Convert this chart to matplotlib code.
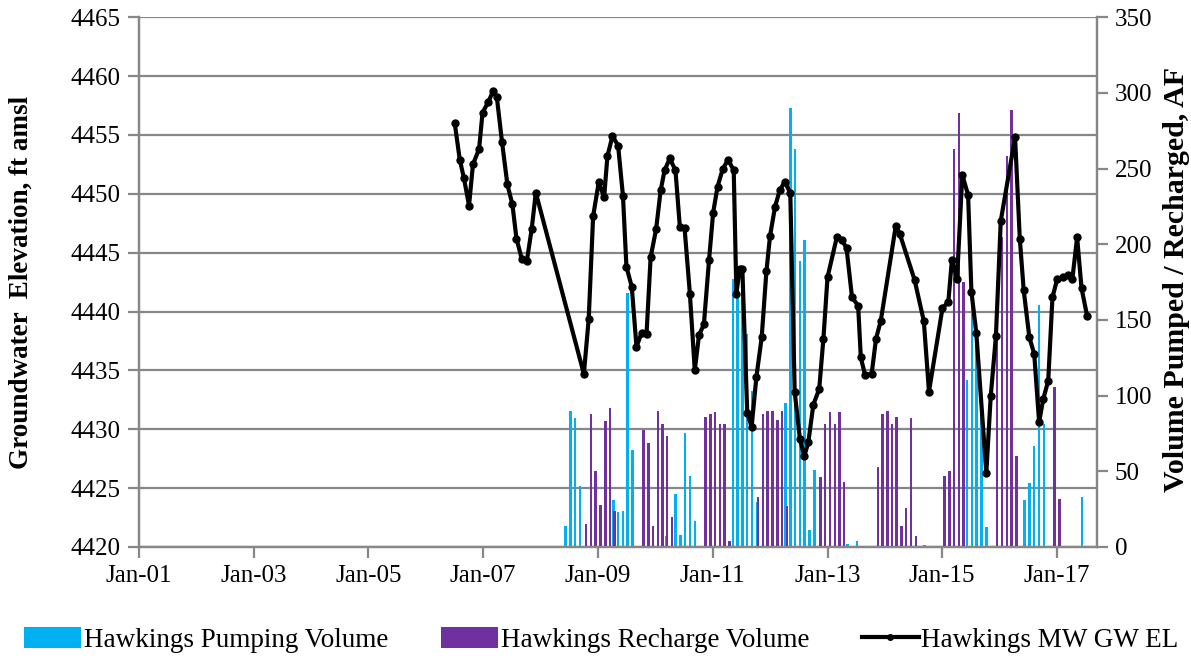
import pandas as pd
import matplotlib
matplotlib.use("Agg")
import matplotlib.pyplot as plt
import matplotlib.dates as mdates
from matplotlib.lines import Line2D
from matplotlib.patches import Patch

plt.rcParams["font.family"] = ["Liberation Serif", "DejaVu Serif"]

# ── Colours ──────────────────────────────────────────────────────────
_PUMP = "#00b0f0"
_RECH = "#7030a0"
_GRID = "#878787"

# ── Monitoring well groundwater elevation (ft amsl) ──────────────────
gw_dates = [
    "2006-07-04", "2006-08-05", "2006-09-01", "2006-10-03", "2006-10-28",
    "2006-12-06", "2006-12-28", "2007-02-03", "2007-03-04", "2007-03-29",
    "2007-05-01", "2007-06-04", "2007-07-06", "2007-08-01", "2007-09-03",
    "2007-10-06", "2007-11-06", "2007-12-02", "2008-10-03", "2008-11-03",
    "2008-12-01", "2009-01-06", "2009-02-09", "2009-03-02", "2009-04-03",
    "2009-05-09", "2009-06-09", "2009-07-01", "2009-08-04", "2009-09-03",
    "2009-10-06", "2009-11-06", "2009-12-02", "2010-01-06", "2010-02-04",
    "2010-03-01", "2010-04-03", "2010-05-09", "2010-06-06", "2010-07-06",
    "2010-08-09", "2010-09-09", "2010-10-06", "2010-11-06", "2010-12-09",
    "2011-01-04", "2011-02-01", "2011-03-06", "2011-04-09", "2011-05-15",
    "2011-06-01", "2011-06-21", "2011-07-09", "2011-08-09", "2011-09-06",
    "2011-10-06", "2011-11-09", "2011-12-09", "2012-01-01", "2012-02-02",
    "2012-03-03", "2012-04-03", "2012-05-09", "2012-06-06", "2012-07-09",
    "2012-08-06", "2012-09-01", "2012-10-03", "2012-11-09", "2012-12-06",
    "2013-01-01", "2013-03-01", "2013-04-01", "2013-05-02", "2013-06-06",
    "2013-07-15", "2013-08-01", "2013-08-28", "2013-10-09", "2013-11-06",
    "2013-12-06", "2014-03-12", "2014-04-06", "2014-07-09", "2014-09-06",
    "2014-10-09", "2015-01-03", "2015-02-09", "2015-03-04", "2015-04-06",
    "2015-05-09", "2015-06-15", "2015-07-06", "2015-08-06", "2015-10-09",
    "2015-11-06", "2015-12-09", "2016-01-09", "2016-04-09", "2016-05-09",
    "2016-06-03", "2016-07-09", "2016-08-09", "2016-09-09", "2016-10-06",
    "2016-11-06", "2016-12-03", "2017-01-03", "2017-02-06", "2017-03-12",
    "2017-04-09", "2017-05-09", "2017-06-06", "2017-07-12",
]
gw_elev = [
    4456.0, 4452.9, 4451.3, 4449.0, 4452.5, 4453.8, 4456.9, 4457.8, 4458.7,
    4458.2, 4454.4, 4450.8, 4449.1, 4446.2, 4444.5, 4444.3, 4447.0, 4450.1,
    4434.7, 4439.4, 4448.1, 4451.0, 4449.7, 4453.2, 4454.9, 4454.1, 4449.8,
    4443.8, 4442.1, 4437.0, 4438.2, 4438.1, 4444.6, 4447.0, 4450.3, 4452.0,
    4453.0, 4452.0, 4447.2, 4447.1, 4441.5, 4435.0, 4438.0, 4438.9, 4444.4,
    4448.4, 4450.6, 4452.1, 4452.9, 4452.0, 4441.5, 4443.6, 4443.6, 4431.4,
    4430.2, 4434.4, 4437.8, 4443.4, 4446.4, 4448.9, 4450.3, 4451.0, 4450.1,
    4433.2, 4429.2, 4427.7, 4428.9, 4432.1, 4433.4, 4437.7, 4442.9, 4446.3,
    4446.1, 4445.4, 4441.2, 4440.5, 4436.1, 4434.6, 4434.7, 4437.7, 4439.2,
    4447.3, 4446.6, 4442.7, 4439.2, 4433.2, 4440.3, 4440.8, 4444.4, 4442.8,
    4451.6, 4449.9, 4441.7, 4438.2, 4426.3, 4432.8, 4437.9, 4447.7, 4454.8,
    4446.2, 4441.8, 4437.8, 4436.4, 4430.6, 4432.6, 4434.1, 4441.2, 4442.8,
    4442.9, 4443.1, 4442.8, 4446.3, 4442.0, 4439.6,
]

# ── Monthly pumping volume (AF) ──────────────────────────────────────
pump_months = [
    "2008-06", "2008-07", "2008-08", "2008-09", "2009-04", "2009-05",
    "2009-06", "2009-07", "2009-08", "2010-03", "2010-05", "2010-06",
    "2010-07", "2010-08", "2010-09", "2011-05", "2011-06", "2011-07",
    "2011-08", "2011-09", "2011-10", "2012-04", "2012-05", "2012-06",
    "2012-07", "2012-08", "2012-09", "2012-10", "2013-05", "2013-07",
    "2014-09", "2015-06", "2015-07", "2015-08", "2015-09", "2015-10",
    "2016-06", "2016-07", "2016-08", "2016-09", "2016-10", "2017-06",
]
pump_af = [
    14, 90, 85, 40, 31, 23,
    24, 168, 64, 7, 35, 8,
    75, 47, 17, 177, 166, 181,
    141, 103, 30, 95, 290, 263,
    189, 203, 11, 51, 2, 4,
    1, 110, 164, 140, 95, 13,
    31, 42, 67, 160, 81, 33,
]

# ── Monthly recharge volume (AF) ─────────────────────────────────────
rech_months = [
    "2008-10", "2008-11", "2008-12", "2009-01", "2009-02", "2009-03",
    "2009-04", "2009-10", "2009-11", "2009-12", "2010-01", "2010-02",
    "2010-03", "2010-04", "2010-11", "2010-12", "2011-01", "2011-02",
    "2011-03", "2011-04", "2011-10", "2011-11", "2011-12", "2012-01",
    "2012-02", "2012-03", "2012-04", "2012-11", "2012-12", "2013-01",
    "2013-02", "2013-03", "2013-04", "2013-11", "2013-12", "2014-01",
    "2014-02", "2014-03", "2014-04", "2014-05", "2014-06", "2014-07",
    "2015-01", "2015-02", "2015-03", "2015-04", "2015-05", "2015-12",
    "2016-01", "2016-02", "2016-03", "2016-04", "2016-12", "2017-01",
]
rech_af = [
    15, 88, 50, 28, 83, 92,
    24, 77, 69, 14, 90, 81,
    73, 20, 86, 88, 89, 81,
    81, 4, 33, 88, 90, 90,
    84, 90, 27, 46, 81, 89,
    81, 89, 43, 53, 88, 90,
    81, 86, 14, 26, 85, 7,
    47, 50, 263, 287, 175, 138,
    205, 258, 289, 60, 106, 32,
]

year_ticks = [f"{y}-01-01" for y in range(2001, 2018, 2)]


def _bar_x(months, shift_days):
    return mdates.date2num(pd.to_datetime(months) + pd.Timedelta(days=shift_days))


fig = plt.figure(figsize=(11.91, 6.61), dpi=100)
rect = [0.1167, 0.1725, 0.8043, 0.8015]

# elevation axis: left ticks + gridlines (bottom layer)
ax = fig.add_axes(rect)
# volume axis: bars, right ticks
axv = ax.twinx()
# line layer on top, sharing the elevation scale
axl = ax.twinx()

ax.set_ylim(4420, 4465)
ax.set_yticks(range(4420, 4466, 5))
ax.grid(axis="y", color=_GRID, linewidth=1.6)
ax.set_axisbelow(True)
ax.set_xlim(mdates.date2num(pd.Timestamp("2001-01-01")),
            mdates.date2num(pd.Timestamp("2017-09-12")))
ax.set_xticks(mdates.date2num(pd.to_datetime(year_ticks)))
ax.xaxis.set_major_formatter(mdates.DateFormatter("%b-%y"))
ax.set_ylabel("Groundwater  Elevation, ft amsl", fontsize=19.5,
              fontweight="bold")
ax.yaxis.set_label_coords(-0.1096, 0.5)

axv.bar(_bar_x(pump_months, 8), pump_af, width=16, color=_PUMP, linewidth=0)
axv.bar(_bar_x(rech_months, 16), rech_af, width=16, color=_RECH, linewidth=0)
axv.set_ylim(0, 350)
axv.set_yticks(range(0, 351, 50))
axv.set_ylabel("Volume Pumped / Recharged, AF", fontsize=21.5,
               fontweight="bold")
axv.yaxis.set_label_coords(1.069, 0.505)

axl.plot(mdates.date2num(pd.to_datetime(gw_dates)), gw_elev, color="black",
         linewidth=3, marker="o", markersize=5)
axl.set_ylim(4420, 4465)
axl.axis("off")

for a in (ax, axv):
    for side, sp in a.spines.items():
        sp.set_color(_GRID)
        sp.set_linewidth(1.6)
    a.spines["top"].set_visible(False)
    a.tick_params(axis="both", direction="out", length=8, width=1.6,
                  color=_GRID, labelsize=18, labelcolor="black", pad=5)

handles = [
    Patch(facecolor=_PUMP, edgecolor="none"),
    Patch(facecolor=_RECH, edgecolor="none"),
    Line2D([], [], color="black", linewidth=3, marker="o", markersize=4),
]
labels = ["Hawkings Pumping Volume", "Hawkings Recharge Volume",
          "Hawkings MW GW EL"]
fig.legend(handles, labels, loc="center", bbox_to_anchor=(0.505, 0.032),
           ncol=3, frameon=False, fontsize=19.5, handlelength=2.1,
           handleheight=0.8, handletextpad=0.1, columnspacing=1.95)

fig.savefig("out.png", dpi=100)
